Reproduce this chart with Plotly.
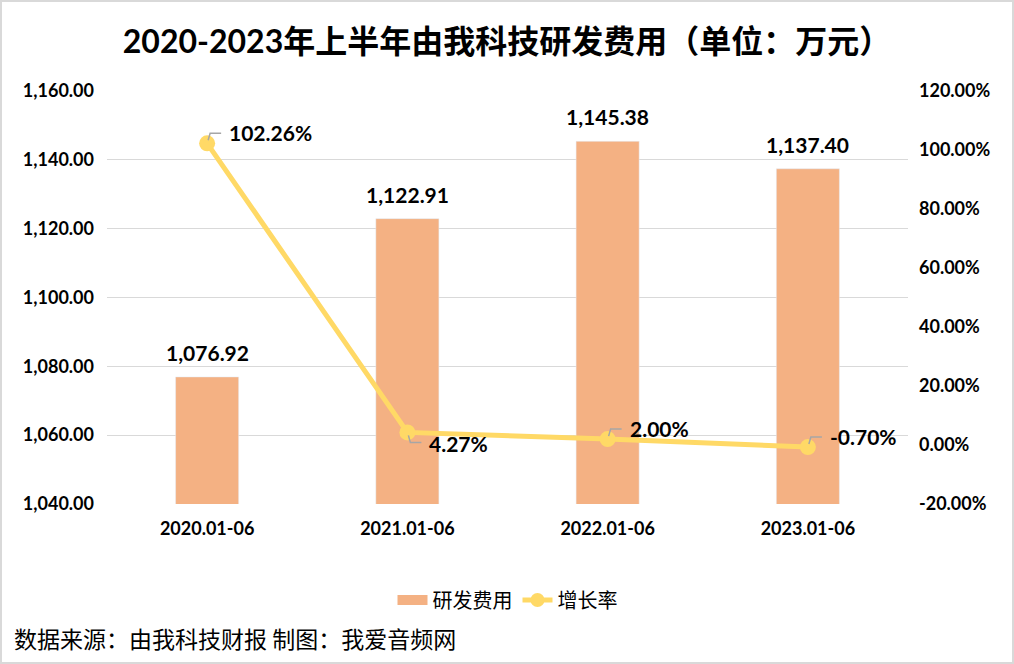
import plotly.graph_objects as go

categories = ["2020.01-06", "2021.01-06", "2022.01-06", "2023.01-06"]
rd_cost = [1076.92, 1122.91, 1145.38, 1137.40]
growth = [102.26, 4.27, 2.00, -0.70]
left_ticks = [1040, 1060, 1080, 1100, 1120, 1140, 1160]
right_ticks = [-20, 0, 20, 40, 60, 80, 100, 120]

BAR = "#F4B183"
LINE = "#FFD966"
NUM_FONT = "Lato, 'Noto Sans CJK SC', sans-serif"
CJK_FONT = "'Noto Sans CJK SC', sans-serif"

fig = go.Figure()
fig.add_trace(go.Bar(x=categories, y=rd_cost, name="研发费用", marker_color=BAR,
                     width=0.315, yaxis="y", showlegend=False))
fig.add_trace(go.Scatter(x=categories, y=growth, name="增长率", yaxis="y2",
                         mode="lines+markers",
                         line=dict(color=LINE, width=5),
                         marker=dict(color=LINE, size=16), showlegend=False))
# legend entries
fig.add_trace(go.Scatter(x=[None], y=[None], name="研发费用", mode="lines",
                         line=dict(color=BAR, width=10), showlegend=True))
fig.add_trace(go.Scatter(x=[None], y=[None], name="增长率", mode="lines+markers", yaxis="y2",
                         line=dict(color=LINE, width=5),
                         marker=dict(color=LINE, size=14), showlegend=True))

ann = []
for c, v in zip(categories, rd_cost):
    ann.append(dict(x=c, y=v, xref="x", yref="y", text=f"{v:,.2f}", showarrow=False,
                    yanchor="bottom", yshift=10,
                    font=dict(family=NUM_FONT, size=21, color="#000000", weight="bold")))

offs = [1, -1, 1, 1]
shapes = []
for c, g, sy in zip(categories, growth, offs):
    ann.append(dict(x=c, y=g, xref="x", yref="y2", text=f"{g:.2f}%", showarrow=False,
                    xanchor="left", yanchor="middle", xshift=20, yshift=11 * sy,
                    font=dict(family=NUM_FONT, size=21, color="#000000", weight="bold")))
    shapes.append(dict(type="path", xref="x", yref="y2", xsizemode="pixel", ysizemode="pixel",
                       xanchor=c, yanchor=g,
                       path=f"M 1 {3*sy} L 3 {10*sy} L 14 {10*sy}",
                       line=dict(color="#A6A6A6", width=1.5)))

# chart border around the whole image
shapes.append(dict(type="rect", xref="paper", yref="paper",
                   x0=-106 / 801, y0=-159 / 413.3, x1=1 + 105 / 801, y1=1 + 90 / 413.3,
                   line=dict(color="#D9D9D9", width=2), layer="below"))

fig.update_layout(
    width=1014, height=664,
    margin=dict(l=107, r=106, t=91, b=160, autoexpand=False),
    paper_bgcolor="white", plot_bgcolor="white",
    title=dict(text="2020-2023年上半年由我科技研发费用（单位：万元）",
               x=0.5, xanchor="center", y=1 - 42 / 664, yanchor="middle",
               font=dict(family=NUM_FONT, size=32, color="#000000", weight="bold")),
    xaxis=dict(type="category", showline=False, ticks="", showgrid=False,
               tickfont=dict(family=NUM_FONT, size=18, color="#000000", weight="bold"),
               ticklabelstandoff=12),
    yaxis=dict(range=[1040, 1160], tickvals=left_ticks, tickformat=",.2f",
               showgrid=True, gridcolor="#D9D9D9", gridwidth=1, zeroline=False, showline=False,
               tickfont=dict(family=NUM_FONT, size=18, color="#000000", weight="bold"),
               ticklabelstandoff=12),
    yaxis2=dict(range=[-20, 120], tickvals=right_ticks,
                ticktext=[f"{t:.2f}%" for t in right_ticks],
                overlaying="y", side="right", showgrid=False, zeroline=False, showline=False,
                tickfont=dict(family=NUM_FONT, size=18, color="#000000", weight="bold"),
                ticklabelstandoff=10),
    legend=dict(orientation="h", x=0.5, xanchor="center", y=-(600 - 504) / 413.3, yanchor="middle",
                font=dict(family=CJK_FONT, size=20, color="#000000"),
                traceorder="normal"),
    annotations=ann + [dict(text="数据来源：由我科技财报 制图：我爱音频网", xref="paper", yref="paper",
                            x=-95 / 801, y=-(638 - 504) / 413.3, xanchor="left", yanchor="middle",
                            showarrow=False,
                            font=dict(family=CJK_FONT, size=23, color="#000000"))],
    shapes=shapes,
)

fig.write_html("out.html")
